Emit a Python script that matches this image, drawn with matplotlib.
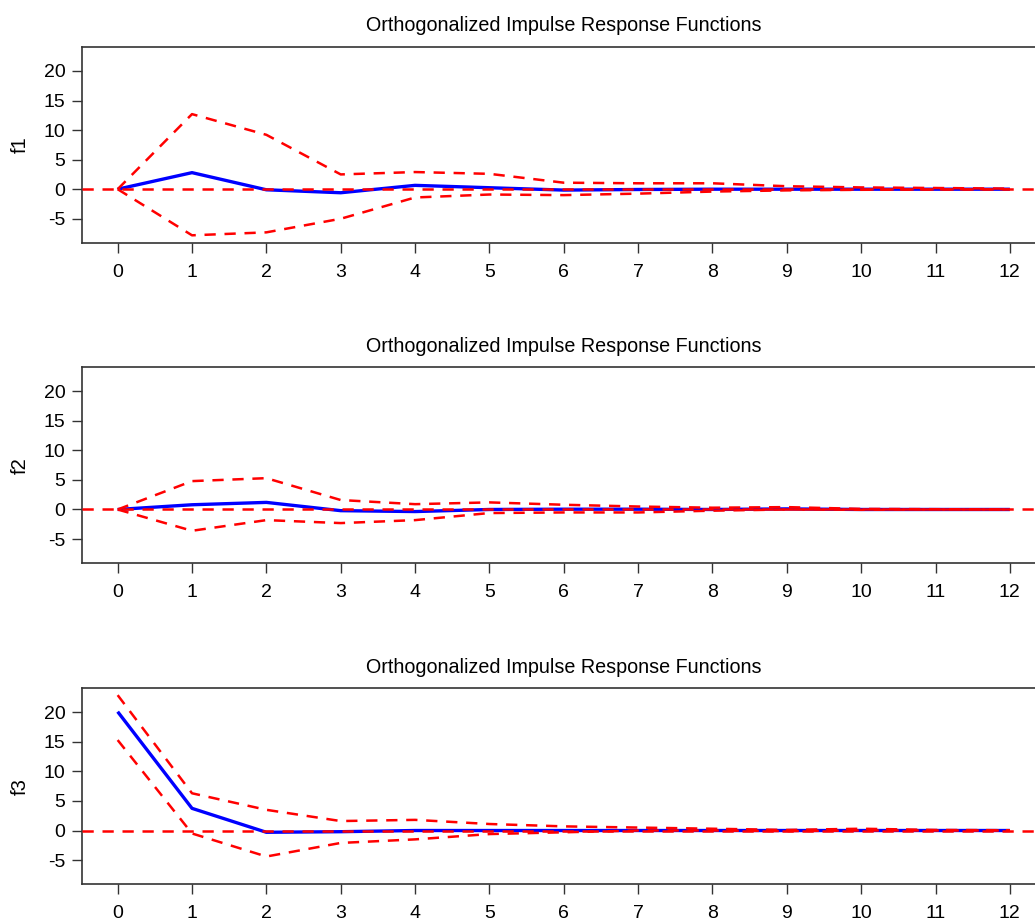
import numpy as np
import matplotlib
matplotlib.use("Agg")
import matplotlib.pyplot as plt

plt.rcParams["font.family"] = ["Liberation Sans", "DejaVu Sans"]
plt.rcParams["axes.unicode_minus"] = False

# ============ 数据 ============
steps = np.arange(13)
panel_names = ["f1", "f2", "f3"]
title = "Orthogonalized Impulse Response Functions"

irf_f1 = [0, 2.8, -0.1, -0.6, 0.65, 0.25, -0.15, -0.05, 0.0, 0.0, 0.0, 0.0, 0.0]
upper_f1 = [0, 12.7, 9.2, 2.5, 2.9, 2.6, 1.1, 1.0, 1.0, 0.5, 0.3, 0.2, 0.1]
lower_f1 = [0, -7.8, -7.3, -5.0, -1.4, -0.9, -1.0, -0.75, -0.4, -0.2, -0.1, -0.05, 0.0]

irf_f2 = [0, 0.8, 1.2, -0.2, -0.35, 0.0, 0.05, 0.05, 0.0, 0.1, 0.0, 0.0, 0.0]
upper_f2 = [0, 4.8, 5.3, 1.6, 0.9, 1.2, 0.8, 0.5, 0.3, 0.4, 0.1, 0.05, 0.0]
lower_f2 = [0, -3.6, -1.8, -2.3, -1.8, -0.6, -0.5, -0.5, -0.2, 0.0, -0.05, 0.0, 0.0]

irf_f3 = [20.1, 3.75, -0.3, -0.2, 0.0, 0.0, 0.0, 0.0, 0.0, 0.0, 0.0, 0.0, 0.0]
upper_f3 = [22.9, 6.3, 3.5, 1.6, 1.8, 1.1, 0.7, 0.5, 0.3, 0.1, 0.3, 0.1, 0.05]
lower_f3 = [15.3, -0.5, -4.4, -2.1, -1.5, -0.6, -0.3, 0.0, 0.0, -0.1, 0.0, 0.0, 0.0]

irfs = [irf_f1, irf_f2, irf_f3]
uppers = [upper_f1, upper_f2, upper_f3]
lowers = [lower_f1, lower_f2, lower_f3]

y_ticks = [-5, 0, 5, 10, 15, 20]

# ============ 绘图 ============
fig = plt.figure(figsize=(10.35, 9.18), dpi=100)

# 坐标轴位置 (右边界超出画布, 与原图一致被裁掉)
left, width, height = 0.0792, 0.931, 0.2138
bottoms = [0.7353, 0.3864, 0.0367]

dash = (4.5, 3.5)
for name, irf, up, lo, b in zip(panel_names, irfs, uppers, lowers, bottoms):
    ax = fig.add_axes([left, b, width, height])
    ax.plot(steps, irf, color="blue", lw=2.4, solid_capstyle="butt", zorder=2)
    ax.plot(steps, up, color="red", lw=1.8, dashes=dash, zorder=3)
    ax.plot(steps, lo, color="red", lw=1.8, dashes=dash, zorder=3)
    ax.axhline(0, color="red", lw=1.8, dashes=dash, zorder=3)

    ax.set_xlim(-0.48, 12.48)
    ax.set_ylim(-9.1, 24.1)
    ax.set_xticks(steps)
    ax.set_yticks(y_ticks)
    ax.set_title(title, fontsize=14.2, pad=11, color="black")
    ax.set_ylabel(name, fontsize=14.5, labelpad=10)

    for side in ["left", "bottom", "top", "right"]:
        ax.spines[side].set_color("#333333")
        ax.spines[side].set_linewidth(1.2)
    ax.tick_params(axis="both", labelsize=14, length=7, width=1.0,
                   color="#333333")
    ax.tick_params(axis="x", pad=8)
    ax.tick_params(axis="y", pad=5)

fig.savefig("out.png", dpi=100, facecolor="white")
plt.close(fig)
